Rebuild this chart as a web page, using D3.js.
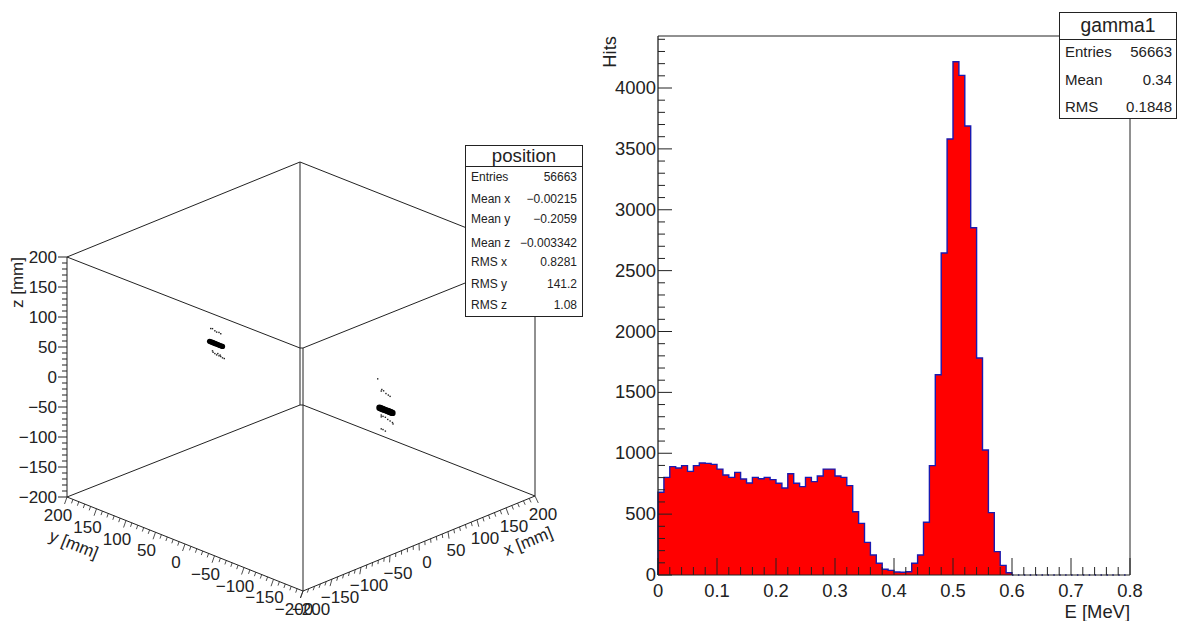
<!DOCTYPE html>
<html>
<head>
<meta charset="utf-8">
<script src="https://cdn.jsdelivr.net/npm/d3@7"></script>
<style>
html,body{margin:0;padding:0;background:#fff;}
svg{display:block;}
text{font-family:"Liberation Sans",Arial,sans-serif;fill:#222;}
</style>
</head>
<body>
<svg id="c" width="1177" height="621"></svg>
<script>
// ---------- data ----------
const histCounts = [
 680,802,890,879,898,851,898,920,917,909,
 870,821,802,843,789,756,802,791,802,783,
 753,715,832,753,726,802,767,813,870,870,
 813,802,734,520,424,268,164,96,47,38,
 25,22,27,96,164,433,898,1645,2645,3581,
 4216,4104,3688,2852,1782,1027,512,192,79,19,
 0,0,0,0,0,0,0,0,0,0,
 0,0,0,0,0,0,0,0,0,0];
const histXTicks = [0,0.1,0.2,0.3,0.4,0.5,0.6,0.7,0.8];
const histYTicks = [0,500,1000,1500,2000,2500,3000,3500,4000];
const axis3dTicks = [-200,-150,-100,-50,0,50,100,150,200];

// scatter clusters (x, y, z in mm)
const coreY = [155,153,151,149,147,145,143,141,139,137,135,133,
               -133,-135,-137,-139,-141,-143,-145,-147,-149,-151,-153,-155];
const coreZ = [-2,-2,-2,-2,-2,-2,-2,-2,-2,-2,-2,-2,
               0,0,0,0,0,0,0,0,0,0,0,0];
const sparseY = [153,150,146,143,139,136, 149,146,143,139,136,133,130,150,141,137,
                 -130,-136,-137,-140,-144,-148,-151,-136,-139,-143,-147,-151,-155,-156,-136,-139,-143,-136];
const sparseZ = [20,21,19,18,19,18, -18,-19,-20,-20,-20,-21,-21,-16,-17,-18,
                 47,29,32,31,28,27,26,-11,-12,-12,-14,-15,-16,-18,-34,-34,-35,-14];

const posStats = [["Entries","56663"],["Mean x","\u22120.00215"],["Mean y","\u22120.2059"],
  ["Mean z","\u22120.003342"],["RMS x","0.8281"],["RMS y","141.2"],["RMS z","1.08"]];
const posRowY = [181,203,223,247,266,288,309];
const gamStats = [["Entries","56663"],["Mean","0.34"],["RMS","0.1848"]];
const gamRowY = [57,85,112];

const svg = d3.select("#c");
const INK = "#222";

// ---------- 3D panel ----------
const P = {
  A:[67,497], B:[303,591], C:[535,496],
  top:257, bot:497, backTopY:348, backBotY:405, backX:300, apexY:162
};
const sxX = d3.scaleLinear().domain([-200,200]).range([P.B[0],P.C[0]]);
const sxY = d3.scaleLinear().domain([-200,200]).range([P.B[1],P.C[1]]);
const syX = d3.scaleLinear().domain([-200,200]).range([P.B[0],P.A[0]]);
const syY = d3.scaleLinear().domain([-200,200]).range([P.B[1],P.A[1]]);
const sz  = d3.scaleLinear().domain([-200,200]).range([P.bot,P.top]);
const cx3 = (P.A[0]+P.C[0])/2;
const project = (x,y,z)=>[
  cx3 + (sxX(x)-sxX(0)) + (syX(y)-syX(0)),
  376.5 + (sxY(x)-sxY(0)) + (syY(y)-syY(0)) + (sz(z)-sz(0))
];

const g3 = svg.append("g").attr("stroke",INK).attr("stroke-width",1).attr("fill","none");
const seg = (g,a,b)=>g.append("line").attr("x1",a[0]).attr("y1",a[1]).attr("x2",b[0]).attr("y2",b[1]);
const TL=[P.A[0],P.top], TR=[P.C[0],P.top-2], BL=[P.A[0],P.bot], BR=[P.C[0],P.C[1]];
const apex=[P.backX,P.apexY], bT=[P.backX,P.backTopY], bB=[P.backX,P.backBotY], bT2=[303,P.backTopY], bB2=[303,P.backBotY];
[[TL,apex],[apex,TR],[TL,bT],[bT2,TR],[BL,bB],[bB2,BR],[apex,bT],[bT,bB],[bT2,bB2],[bB2,P.B],[TR,BR],[BL,P.B],[P.B,BR],[bT,bT2],[bB,bB2],[TL,BL]]
  .forEach(s=>seg(g3,s[0],s[1]));

// axis ticks
const minor3d = d3.range(-200,201,10);
minor3d.forEach(v=>{
  const maj = v%50===0;
  seg(g3,[P.A[0],sz(v)],[P.A[0]-(maj?9:5),sz(v)]);
  const ly=maj?7:4;
  seg(g3,[syX(v),syY(v)],[syX(v)-ly*0.35,syY(v)+ly]).attr("stroke-width",0.8);
  const t=(v+200)/400;
  const dx=(t-0.45)*6*(maj?1:0.6);
  seg(g3,[sxX(v),sxY(v)],[sxX(v)+dx,sxY(v)+ly]).attr("stroke-width",0.8);
});

const fmt = v=>String(v).replace("-","\u2212");
const lab3 = svg.append("g").attr("font-size",17);
axis3dTicks.forEach(v=>{
  lab3.append("text").attr("x",57).attr("y",sz(v)+6).attr("text-anchor","end").text(fmt(v));
  lab3.append("text").attr("x",syX(v)-9).attr("y",syY(v)+24).attr("text-anchor","middle").text(fmt(v));
  lab3.append("text").attr("x",sxX(v)+8).attr("y",sxY(v)+24).attr("text-anchor","middle").text(fmt(v));
});
lab3.append("text").attr("transform","translate(23,257) rotate(-90)").attr("text-anchor","end").text("z [mm]");
lab3.append("text").attr("transform","translate(74,544) rotate(21.7)").attr("dy",6).attr("text-anchor","middle").text("y [mm]");
lab3.append("text").attr("transform","translate(528,541) rotate(-22)").attr("dy",6).attr("text-anchor","middle").text("x [mm]");

// scatter points
const pts = svg.append("g").attr("fill","#000");
coreY.forEach((y,i)=>{
  const p=project(0,y,coreZ[i]);
  pts.append("circle").attr("cx",p[0]).attr("cy",p[1]).attr("r",y>0?2.6:3.2);
});
sparseY.forEach((y,i)=>{
  const p=project(0,y,sparseZ[i]);
  pts.append("rect").attr("x",p[0]-0.7).attr("y",p[1]-0.7).attr("width",1.4).attr("height",1.4).attr("fill","#222");
});

// stats box helper
function statsBox(b){
  const g=svg.append("g");
  g.append("rect").attr("x",b.x+.5).attr("y",b.y+.5).attr("width",b.w-1).attr("height",b.h-1)
    .attr("fill","#fff").attr("stroke",INK);
  g.append("line").attr("x1",b.x).attr("x2",b.x+b.w).attr("y1",b.div+.5).attr("y2",b.div+.5).attr("stroke",INK);
  g.append("text").attr("x",b.x+b.w/2).attr("y",b.titleY).attr("text-anchor","middle").attr("font-size",b.titleSize).text(b.title);
  b.rows.forEach((r,i)=>{
    g.append("text").attr("x",b.x+b.padL).attr("y",b.rowY[i]).attr("font-size",b.size).text(r[0]);
    g.append("text").attr("x",b.x+b.w-b.padR).attr("y",b.rowY[i]).attr("font-size",b.size).attr("text-anchor","end").text(r[1]);
  });
}
statsBox({x:465,y:145,w:118,h:172,div:166,title:"position",titleY:162,titleSize:18.7,
  rows:posStats,rowY:posRowY,size:12,padL:6,padR:6});

// ---------- histogram panel ----------
const H={l:658,r:1130,t:36,b:575};
const xH=d3.scaleLinear().domain([0,0.8]).range([H.l,H.r]);
const yH=d3.scaleLinear().domain([0,4000]).range([H.b,88]);
const bw=0.01;
const bins=histCounts.map((c,i)=>({x0:i*bw,x1:(i+1)*bw,c}));
let lastNZ=-1; histCounts.forEach((c,i)=>{if(c>0) lastNZ=i;});
const stepPts=[[xH(0),yH(0)]];
bins.slice(0,lastNZ+1).forEach(b=>{stepPts.push([xH(b.x0),yH(b.c)]);stepPts.push([xH(b.x1),yH(b.c)]);});
stepPts.push([xH(bins[lastNZ].x1),yH(0)]);
const line=d3.line();
svg.append("path").attr("d",line(stepPts)+"Z").attr("fill","#ff0000").attr("stroke","none");
svg.append("path").attr("d",line(stepPts)).attr("fill","none").attr("stroke","#1a1ab0").attr("stroke-width",1.4);
svg.append("line").attr("x1",xH(bins[lastNZ].x1)).attr("x2",xH(0.8)).attr("y1",yH(0)).attr("y2",yH(0))
  .attr("stroke","#1a1ab0").attr("stroke-width",1.4).attr("stroke-dasharray","1.5 4.4");

const gh=svg.append("g").attr("stroke",INK).attr("stroke-width",1);
seg(gh,[H.l,H.t],[1059,H.t]);
seg(gh,[H.l,H.t],[H.l,H.b]).attr("stroke-width",1.3);
seg(gh,[H.l,H.b],[H.r,H.b]);
seg(gh,[H.r,H.t],[H.r,H.b]);
d3.range(0,41).forEach(k=>{
  const v=k*0.02, maj=k%5===0, X=xH(v);
  seg(gh,[X,H.b],[X,H.b-(maj?17:8)]);
});
d3.range(0,45).forEach(k=>{
  const v=k*100, Y=yH(v), maj=k%5===0;
  seg(gh,[H.l,Y],[H.l+(maj?14:7),Y]);
});
const labH=svg.append("g").attr("font-size",18.4);
histXTicks.forEach(v=>labH.append("text").attr("x",xH(v)).attr("y",597).attr("text-anchor","middle").text(v===0?"0":d3.format(".1f")(v)));
histYTicks.forEach(v=>labH.append("text").attr("x",656).attr("y",yH(v)+6).attr("text-anchor","end").text(v));
labH.append("text").attr("x",1130).attr("y",618).attr("text-anchor","end").text("E [MeV]");
labH.append("text").attr("transform","translate(616,36) rotate(-90)").attr("text-anchor","end").text("Hits");

statsBox({x:1059,y:12,w:118,h:107,div:39,title:"gamma1",titleY:32,titleSize:19.3,
  rows:gamStats,rowY:gamRowY,size:15,padL:6,padR:5});
</script>
</body>
</html>
